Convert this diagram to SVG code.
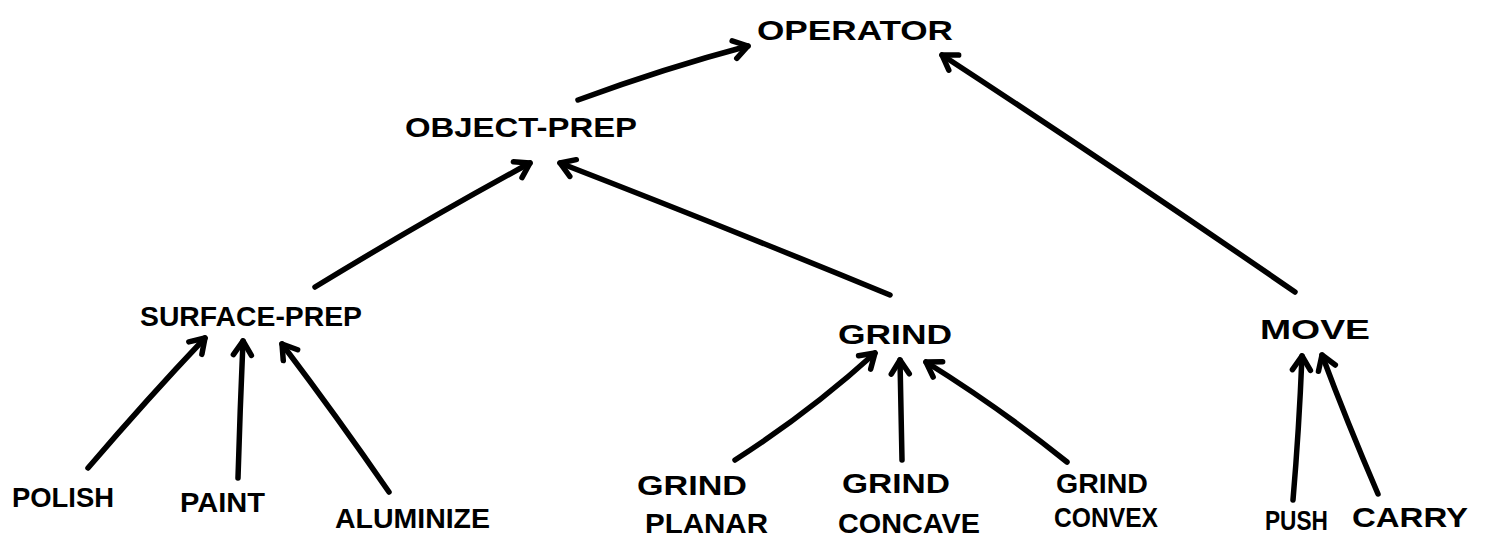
<svg xmlns="http://www.w3.org/2000/svg" width="1487" height="538" viewBox="0 0 1487 538">
<style>
.t{font-family:"Liberation Sans",Arial,sans-serif;font-weight:bold;font-size:28px;fill:#000}
.c{fill:none;stroke:#000;stroke-width:5.5;stroke-linecap:round;stroke-linejoin:round}
</style>
<defs>
<marker id="ah" markerUnits="userSpaceOnUse" viewBox="0 0 24 24" refX="20" refY="12" markerWidth="24" markerHeight="24" orient="auto" overflow="visible">
<path d="M6,3 L20,12 L6,21" fill="none" stroke="#000" stroke-width="5.5" stroke-linecap="round" stroke-linejoin="round"/>
</marker>
</defs>
<rect width="1487" height="538" fill="#fff"/>
<g id="connectors">
<path class="c" marker-end="url(#ah)" d="M578,100 Q665,68 748,46"/>
<path class="c" marker-end="url(#ah)" d="M1295,292 Q1115,168 942,55"/>
<path class="c" marker-end="url(#ah)" d="M315,287 Q425,220 530,163"/>
<path class="c" marker-end="url(#ah)" d="M890,295 Q720,225 560,163"/>
<path class="c" marker-end="url(#ah)" d="M88,468 Q148,398 205,338"/>
<path class="c" marker-end="url(#ah)" d="M238,478 Q240,410 243,341"/>
<path class="c" marker-end="url(#ah)" d="M389,492 Q338,418 282,344"/>
<path class="c" marker-end="url(#ah)" d="M735,460 Q810,412 875,353"/>
<path class="c" marker-end="url(#ah)" d="M902,460 Q901,410 900,360"/>
<path class="c" marker-end="url(#ah)" d="M1067,462 Q1000,408 926,362"/>
<path class="c" marker-end="url(#ah)" d="M1293,500 Q1299,430 1302,356"/>
<path class="c" marker-end="url(#ah)" d="M1378,494 Q1347,422 1322,355"/>
</g>
<g id="operator"><text class="t" x="757" y="40" textLength="196" lengthAdjust="spacingAndGlyphs">OPERATOR</text></g>
<g id="object-prep"><text class="t" x="405" y="137" textLength="232" lengthAdjust="spacingAndGlyphs">OBJECT-PREP</text></g>
<g id="surface-prep"><text class="t" x="140" y="326" textLength="222" lengthAdjust="spacingAndGlyphs">SURFACE-PREP</text></g>
<g id="grind"><text class="t" x="838" y="344" textLength="114" lengthAdjust="spacingAndGlyphs">GRIND</text></g>
<g id="move"><text class="t" x="1260" y="339" textLength="110" lengthAdjust="spacingAndGlyphs">MOVE</text></g>
<g id="polish"><text class="t" x="12" y="507" textLength="102" lengthAdjust="spacingAndGlyphs">POLISH</text></g>
<g id="paint"><text class="t" x="180" y="512" textLength="85" lengthAdjust="spacingAndGlyphs">PAINT</text></g>
<g id="aluminize"><text class="t" x="335" y="528" textLength="155" lengthAdjust="spacingAndGlyphs">ALUMINIZE</text></g>
<g id="grind-planar"><text class="t" x="637" y="495" textLength="110" lengthAdjust="spacingAndGlyphs">GRIND</text><text class="t" x="645" y="533" textLength="123" lengthAdjust="spacingAndGlyphs">PLANAR</text></g>
<g id="grind-concave"><text class="t" x="842" y="493" textLength="108" lengthAdjust="spacingAndGlyphs">GRIND</text><text class="t" x="838" y="533" textLength="142" lengthAdjust="spacingAndGlyphs">CONCAVE</text></g>
<g id="grind-convex"><text class="t" x="1056" y="493" textLength="92" lengthAdjust="spacingAndGlyphs">GRIND</text><text class="t" x="1054" y="527" textLength="104" lengthAdjust="spacingAndGlyphs">CONVEX</text></g>
<g id="push"><text class="t" x="1265" y="530" textLength="63" lengthAdjust="spacingAndGlyphs">PUSH</text></g>
<g id="carry"><text class="t" x="1352" y="527" textLength="116" lengthAdjust="spacingAndGlyphs">CARRY</text></g>
</svg>
